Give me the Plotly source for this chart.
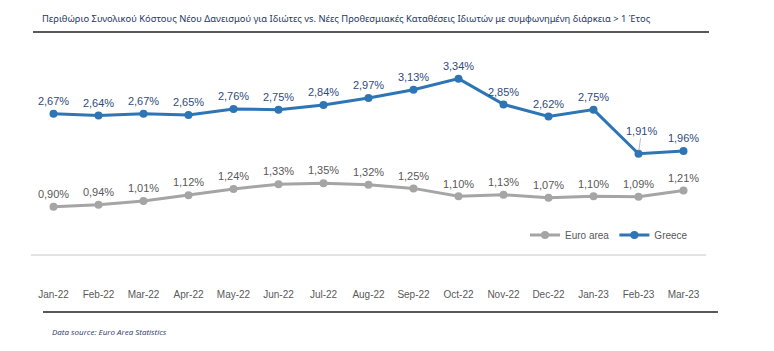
import plotly.graph_objects as go

months = ["Jan-22", "Feb-22", "Mar-22", "Apr-22", "May-22", "Jun-22", "Jul-22", "Aug-22",
          "Sep-22", "Oct-22", "Nov-22", "Dec-22", "Jan-23", "Feb-23", "Mar-23"]
greece = [2.67, 2.64, 2.67, 2.65, 2.76, 2.75, 2.84, 2.97, 3.13, 3.34, 2.85, 2.62, 2.75, 1.91, 1.96]
euro_area = [0.90, 0.94, 1.01, 1.12, 1.24, 1.33, 1.35, 1.32, 1.25, 1.10, 1.13, 1.07, 1.10, 1.09, 1.21]

title = ("Περιθώριο Συνολικού Κόστους Νέου Δανεισμού για Ιδιώτες vs. Νέες Προθεσμιακές "
         "Καταθέσεις Ιδιωτών με συμφωνημένη διάρκεια > 1 Έτος")
source = "Data source: Euro Area Statistics"

def fmt(v):
    return f"{v:.2f}".replace(".", ",") + "%"

callout_idx = 13  # Feb-23 label drawn with leader line

euro_text = [fmt(v) for v in euro_area]
greece_text = ["" if i == callout_idx else fmt(v) for i, v in enumerate(greece)]

GREY = "#A5A5A5"
BLUE = "#2E75B6"
LABEL_BLUE = "#2F4B7C"
LABEL_GREY = "#595959"

fig = go.Figure()
fig.add_trace(go.Scatter(
    x=months, y=euro_area, name="Euro area", mode="lines+markers+text",
    line=dict(color=GREY, width=3), marker=dict(color=GREY, size=8),
    text=euro_text, textposition="top center",
    textfont=dict(family="Liberation Sans, Arial", size=11, color=LABEL_GREY),
    hoverinfo="skip", cliponaxis=False,
))
fig.add_trace(go.Scatter(
    x=months, y=greece, name="Greece", mode="lines+markers+text",
    line=dict(color=BLUE, width=3), marker=dict(color=BLUE, size=8),
    text=greece_text, textposition="top center",
    textfont=dict(family="Liberation Sans, Arial", size=11, color=LABEL_BLUE),
    hoverinfo="skip", cliponaxis=False,
))

fig.add_annotation(
    x=months[callout_idx], y=greece[callout_idx], text=fmt(greece[callout_idx]),
    showarrow=True, arrowhead=0, arrowwidth=0.8, arrowcolor="#A6A6A6",
    ax=3, ay=-23, standoff=3,
    font=dict(family="Liberation Sans, Arial", size=11, color=LABEL_BLUE),
)

# plot area in px: x 31..706, y 40..254
def px(xp):
    return (xp - 31) / 675

def py(yp):
    return (254 - yp) / 214

fig.add_annotation(
    x=px(40), y=py(18), xref="paper", yref="paper", xanchor="left", yanchor="middle",
    text=title, showarrow=False,
    font=dict(family="Noto Sans, Open Sans", size=9.4, color="#1F3864"),
)
fig.add_shape(type="line", xref="paper", yref="paper",
              x0=px(33), x1=px(709), y0=py(32), y1=py(32),
              line=dict(color="#595959", width=2))
fig.add_shape(type="line", xref="paper", yref="paper",
              x0=px(43), x1=px(718), y0=py(312), y1=py(312),
              line=dict(color="#595959", width=2))
fig.add_annotation(
    x=px(50), y=py(331), xref="paper", yref="paper", xanchor="left", yanchor="middle",
    text="<i>" + source + "</i>", showarrow=False,
    font=dict(family="Open Sans, Noto Sans", size=8, color="#1F3864"),
)

fig.update_layout(
    width=774, height=351,
    margin=dict(l=31, r=68, t=40, b=97),
    paper_bgcolor="white", plot_bgcolor="white",
    showlegend=True,
    legend=dict(orientation="h", x=px(693), xanchor="right", y=py(235), yanchor="middle",
                font=dict(family="Liberation Sans, Arial", size=10, color="#595959"),
                bgcolor="rgba(0,0,0,0)", itemwidth=30, tracegroupgap=0),
    xaxis=dict(type="category", range=[-0.5, 14.5], showgrid=False, zeroline=False,
               showline=True, linecolor="#E3E3E3", linewidth=1.5, ticks="",
               tickfont=dict(family="Liberation Sans, Arial", size=10, color="#595959"),
               ticklabelstandoff=30),
    yaxis=dict(range=[0, 214 / 52.5], visible=False, showgrid=False, zeroline=False),
)

fig.write_html("out.html")
